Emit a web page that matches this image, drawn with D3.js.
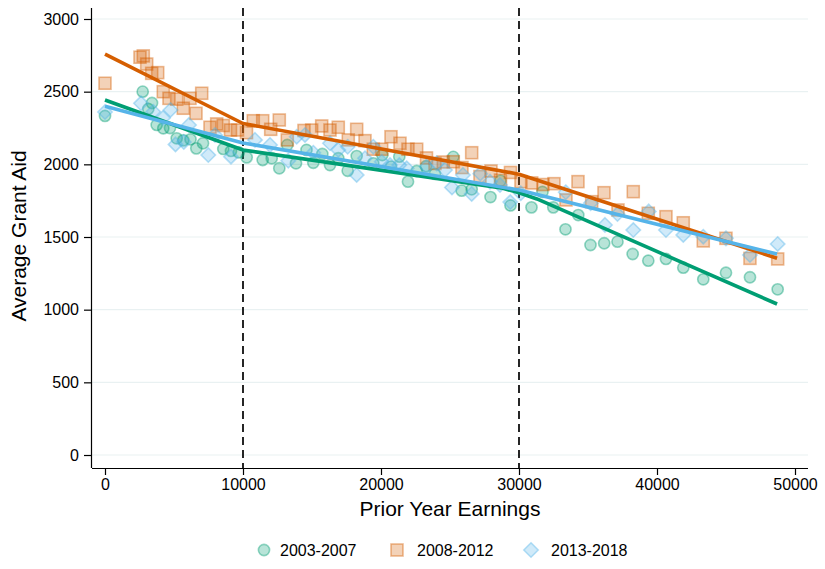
<!DOCTYPE html>
<html><head><meta charset="utf-8">
<script src="https://cdn.jsdelivr.net/npm/d3@7"></script>
<style>body{margin:0;background:#fff}text{font-family:"Liberation Sans",Arial,Helvetica,sans-serif}</style>
</head><body><svg id="c" width="825" height="569"></svg>
<script>
// ---------- data ----------
const seriesNames = ["2003-2007", "2008-2012", "2013-2018"];

const earlyX = [0,2732,3137,3406,3746,4224,4710,5195,5674,6195,6616,7101,8572,9130,9695,10268,11427,12079,12630,13210,13840,14601,15094,15746,16304,16905,17586,18238,19441,20093,20724,21325,21955,22586,23260,23912,25238,25847,26571,27934,28658,29383,30904,31701,32484,33368,34295,35180,36172,37136,38237,39368,40650,41904,43353,44998,46737,48744];
const earlyY = [2333,2500,2381,2422,2271,2248,2250,2179,2165,2172,2110,2145,2106,2092,2082,2048,2030,2042,1973,2133,2007,2099,2011,2071,1995,2042,1956,2057,2007,2064,1984,2053,1881,1954,1987,1934,2051,1819,1828,1775,1887,1717,1704,1810,1704,1553,1651,1445,1457,1468,1383,1337,1349,1289,1209,1254,1223,1140];

const midX = [0,2536,2775,3022,3384,3819,4224,4637,5195,5674,6159,6594,7007,7608,8094,8572,9094,9601,10253,10746,11427,12007,12630,13210,14420,14977,15702,16304,16905,17630,18238,18840,19441,20050,20724,21376,21955,22586,23296,23912,24513,25238,25868,26571,27173,27970,28658,29383,30143,30919,31737,32535,33404,34274,35266,36158,37172,38281,39368,40650,41904,43353,44998,46737,48744];
const midY = [2558,2737,2746,2690,2626,2631,2500,2454,2448,2386,2454,2351,2489,2255,2278,2267,2236,2236,2218,2300,2300,2241,2305,2168,2233,2236,2264,2236,2255,2168,2241,2163,2104,2104,2190,2145,2104,2104,2044,2006,2016,2018,1978,2080,1916,1954,1892,1944,1881,1872,1861,1867,1755,1881,1743,1805,1686,1812,1663,1640,1598,1473,1491,1353,1349];

const lateX = [0,2609,3500,4203,4746,5108,5710,6087,7485,7971,9130,10869,11956,13282,13891,14492,15094,16304,16905,17586,18238,18840,19441,20050,20651,21325,21861,23310,24035,24636,25144,25941,26571,27194,27897,28622,29368,30129,33390,35194,36230,37136,38281,39404,40650,41904,43353,44998,46737,48744];
const lateY = [2360,2420,2362,2319,2374,2137,2154,2271,2064,2202,2053,2168,2133,2025,2190,2202,2080,2145,2099,2121,1927,2042,2121,2018,1995,1995,1973,1984,2007,1961,1841,1927,1796,1936,1881,1858,1740,1801,1808,1732,1583,1658,1548,1676,1548,1514,1502,1491,1376,1452];

// fitted lines
const fitEarlyX = [0,10000,28700,30000,31300,48700];
const fitEarlyY = [2443,2099,1838,1805,1762,1039];
const fitMidX = [0,10000,30000,48700];
const fitMidY = [2759,2281,1932,1354];
const fitLateX = [0,10000,30000,48700];
const fitLateY = [2400,2147,1823,1383];

const xTicks = [0,10000,20000,30000,40000,50000];
const yTicks = [0,500,1000,1500,2000,2500,3000];
const cutoffs = [10000,30000];

const colors = ["#009E73","#D55E00","#56B4E9"];
const shapes = ["circle","square","diamond"];

// ---------- scales ----------
const svg = d3.select("#c");
const x = d3.scaleLinear().domain([-942, 50942]).range([92, 808]);
const y = d3.scaleLinear().domain([-89.4, 3075.7]).range([468, 8]);

// gridlines
svg.append("g").selectAll("line").data(yTicks).join("line")
  .attr("x1", 92).attr("x2", 808)
  .attr("y1", d => y(d)).attr("y2", d => y(d))
  .attr("stroke", "#e9f1f2").attr("stroke-width", 1.2);

// cutoff dashed lines
svg.append("g").selectAll("line").data(cutoffs).join("line")
  .attr("x1", d => x(d)).attr("x2", d => x(d))
  .attr("y1", 8).attr("y2", 468)
  .attr("stroke", "#000").attr("stroke-width", 1.7)
  .attr("stroke-dasharray", "8,5");

// markers
function drawMarker(sel, shape, color) {
  if (shape === "circle") {
    sel.append("circle").attr("r", 5.6);
  } else if (shape === "square") {
    sel.append("rect").attr("x", -6).attr("y", -6).attr("width", 12).attr("height", 12);
  } else {
    sel.append("path").attr("d", "M0,-7.2L7.2,0L0,7.2L-7.2,0Z");
  }
  sel.selectAll("circle,rect,path")
    .attr("fill", color).attr("fill-opacity", 0.28)
    .attr("stroke", color).attr("stroke-opacity", 0.42).attr("stroke-width", 1.6);
}

const scatter = [[earlyX, earlyY], [midX, midY], [lateX, lateY]];
scatter.forEach(([xs, ys], i) => {
  const pts = xs.map((v, j) => [v, ys[j]]);
  const g = svg.append("g");
  g.selectAll("g").data(pts).join("g")
    .attr("transform", d => `translate(${x(d[0])},${y(d[1])})`)
    .each(function() { drawMarker(d3.select(this), shapes[i], colors[i]); });
});

// fit lines
const fits = [[fitEarlyX, fitEarlyY], [fitMidX, fitMidY], [fitLateX, fitLateY]];
const lineGen = d3.line().x(d => x(d[0])).y(d => y(d[1]));
fits.forEach(([xs, ys], i) => {
  svg.append("path").datum(xs.map((v, j) => [v, ys[j]]))
    .attr("d", lineGen).attr("fill", "none")
    .attr("stroke", colors[i]).attr("stroke-width", 3.6)
    .attr("stroke-linejoin", "round");
});

// axes
const yAxis = svg.append("g").attr("transform", "translate(92,0)")
  .call(d3.axisLeft(y).tickValues(yTicks).tickSize(8).tickPadding(5).tickFormat(d3.format("d")));
const xAxis = svg.append("g").attr("transform", "translate(0,468)")
  .call(d3.axisBottom(x).tickValues(xTicks).tickSize(7).tickPadding(4).tickFormat(d3.format("d")));
[yAxis, xAxis].forEach(a => {
  a.select(".domain").attr("stroke", "#000").attr("stroke-width", 1.2);
  a.selectAll(".tick line").attr("stroke", "#000").attr("stroke-width", 1.2);
  a.selectAll(".tick text").attr("fill", "#000").style("font-size", "16px")
    .style("font-family", '"Liberation Sans",Arial,sans-serif');
});
xAxis.select(".domain").attr("d", "M92,0.5H808");
yAxis.select(".domain").attr("d", "M-0.5,8V468");

// axis titles
svg.append("text").attr("transform", "translate(26,236) rotate(-90)")
  .attr("text-anchor", "middle").style("font-size", "21px").text("Average Grant Aid");
svg.append("text").attr("x", 450).attr("y", 516)
  .attr("text-anchor", "middle").style("font-size", "21px").text("Prior Year Earnings");

// legend
const legendMarkerX = [264, 397, 531];
const legendTextX = [280, 417, 551];
seriesNames.forEach((name, i) => {
  const g = svg.append("g").attr("transform", `translate(${legendMarkerX[i]},550)`);
  drawMarker(g, shapes[i], colors[i]);
  svg.append("text").attr("x", legendTextX[i]).attr("y", 556).style("font-size", "16px").text(name);
});
</script></body></html>
